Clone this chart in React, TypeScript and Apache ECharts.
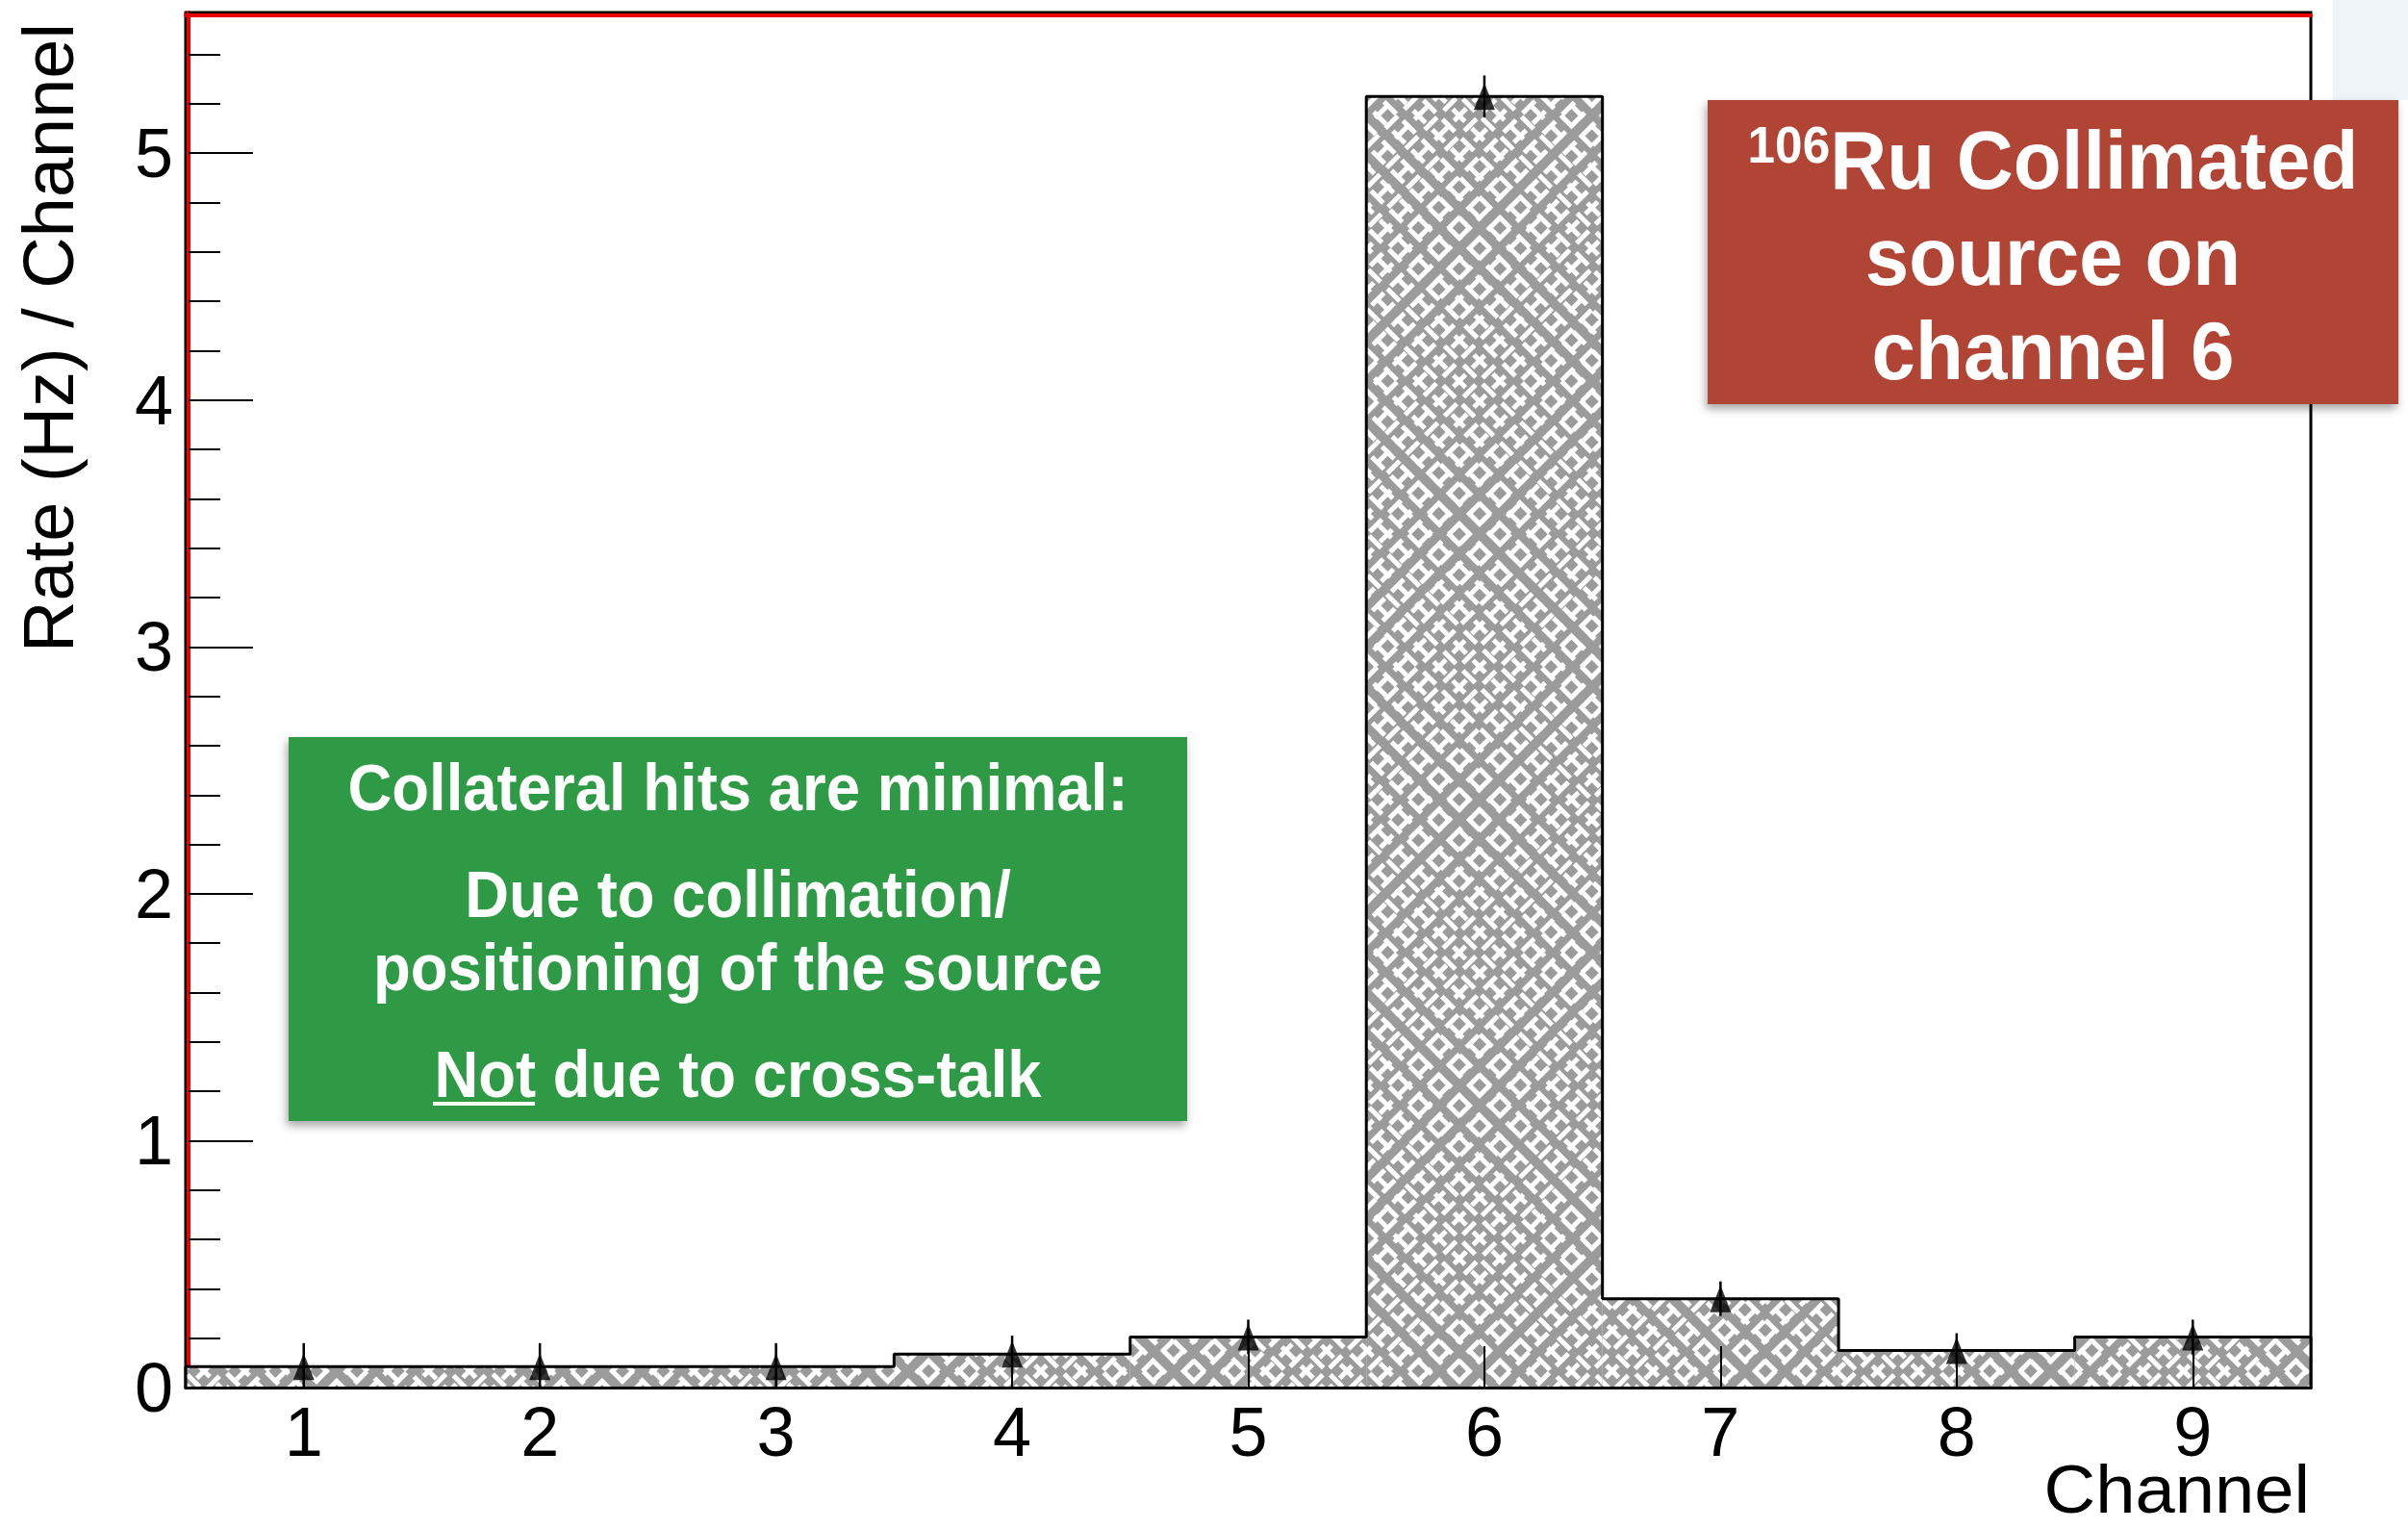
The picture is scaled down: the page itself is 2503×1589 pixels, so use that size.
import React, { useEffect, useRef } from 'react';
import * as echarts from 'echarts';

// ---- data ----
const channels = ['1', '2', '3', '4', '5', '6', '7', '8', '9'];
const rates = [0.085, 0.085, 0.085, 0.135, 0.205, 5.23, 0.36, 0.15, 0.205];
const rateErrors = [0.095, 0.095, 0.095, 0.075, 0.07, 0.085, 0.07, 0.07, 0.07];
const yMax = 5.57;
const xRange = [0.5, 9.5];

const FONT = "'Liberation Sans', Arial, Helvetica, sans-serif";

const decalA = {
  color: '#ffffff',
  symbol: 'rect',
  symbolSize: 1,
  dashArrayX: [[18, 10]],
  dashArrayY: [5, 10],
  rotation: Math.PI / 4,
};
const decalB = {
  color: '#ffffff',
  symbol: 'rect',
  symbolSize: 1,
  dashArrayX: [[18, 10]],
  dashArrayY: [5, 10],
  rotation: -Math.PI / 4,
};

export default function App() {
  const ref = useRef<HTMLDivElement>(null);

  useEffect(() => {
    if (!ref.current) return;
    const chart = echarts.init(ref.current, null, { renderer: 'svg', width: 2503, height: 1589 });

    const centers = channels.map((c) => Number(c));
    // step outline through bin edges
    const outline: number[][] = [[centers[0] - 0.5, 0]];
    centers.forEach((c, i) => outline.push([c - 0.5, rates[i]]));
    outline.push([centers[centers.length - 1] + 0.5, rates[rates.length - 1]]);
    outline.push([centers[centers.length - 1] + 0.5, 0]);

    const white = '#ffffff';
    const boxShadow = { shadowBlur: 10, shadowOffsetX: -2, shadowOffsetY: 5, shadowColor: 'rgba(0,0,0,0.35)' };

    chart.setOption({
      animation: false,
      backgroundColor: '#ffffff',
      grid: {
        left: 193,
        top: 13,
        right: 101,
        bottom: 147,
        show: true,
        borderColor: '#000',
        borderWidth: 3,
        backgroundColor: '#ffffff',
      },
      xAxis: [
        {
          type: 'category',
          data: channels,
          position: 'bottom',
          boundaryGap: true,
          z: 5,
          axisLine: { show: true, onZero: false, lineStyle: { color: '#000', width: 3 } },
          axisTick: { show: true, inside: true, alignWithLabel: true, length: 43, lineStyle: { color: '#000', width: 2 } },
          axisLabel: { show: true, margin: 10, fontSize: 72, color: '#000', fontFamily: FONT },
          splitLine: { show: false },
        },
        {
          type: 'value',
          min: xRange[0],
          max: xRange[1],
          position: 'top',
          offset: -3,
          axisLine: { show: true, onZero: false, lineStyle: { color: '#ee0000', width: 4 } },
          axisTick: { show: false },
          axisLabel: { show: false },
          splitLine: { show: false },
        },
      ],
      yAxis: [
        {
          type: 'value',
          min: 0,
          max: yMax,
          interval: 1,
          position: 'left',
          offset: -3,
          axisLine: { show: true, onZero: false, lineStyle: { color: '#ee0000', width: 4 } },
          axisTick: { show: true, inside: true, length: 67, lineStyle: { color: '#000', width: 2 } },
          axisLabel: { show: true, margin: 16, fontSize: 72, color: '#000', fontFamily: FONT, showMaxLabel: false },
          splitLine: { show: false },
        },
        {
          type: 'value',
          min: 0,
          max: yMax,
          interval: 0.2,
          position: 'left',
          offset: -3,
          axisLine: { show: false },
          axisTick: { show: true, inside: true, length: 33, lineStyle: { color: '#000', width: 2 } },
          axisLabel: { show: false },
          splitLine: { show: false },
        },
      ],
      series: [
        {
          type: 'bar',
          xAxisIndex: 0,
          yAxisIndex: 0,
          data: rates,
          barWidth: '100%',
          barGap: '-100%',
          silent: true,
          itemStyle: { color: '#9b9b9b', decal: decalA },
          z: 2,
        },
        {
          type: 'bar',
          xAxisIndex: 0,
          yAxisIndex: 0,
          data: rates,
          barWidth: '100%',
          barGap: '-100%',
          silent: true,
          itemStyle: { color: 'rgba(0,0,0,0)', decal: decalB },
          z: 2,
        },
        {
          type: 'line',
          xAxisIndex: 1,
          yAxisIndex: 0,
          data: outline,
          step: 'end',
          symbol: 'none',
          silent: true,
          lineStyle: { color: '#000', width: 3 },
          z: 3,
        },
        {
          type: 'custom',
          xAxisIndex: 1,
          yAxisIndex: 0,
          silent: true,
          data: centers.map((c, i) => [c, Math.max(0, rates[i] - rateErrors[i]), rates[i] + rateErrors[i]]),
          renderItem: (params: any, api: any) => {
            const p1 = api.coord([api.value(0), api.value(1)]);
            const p2 = api.coord([api.value(0), api.value(2)]);
            return {
              type: 'line',
              shape: { x1: p1[0], y1: p1[1], x2: p2[0], y2: p2[1] },
              style: { stroke: '#000', lineWidth: 2.5 },
            };
          },
          z: 4,
        },
        {
          type: 'scatter',
          xAxisIndex: 1,
          yAxisIndex: 0,
          silent: true,
          data: centers.map((c, i) => [c, rates[i]]),
          symbol: 'triangle',
          symbolSize: [22, 28],
          itemStyle: { color: '#000' },
          z: 4,
        },
      ],
      graphic: [
        {
          type: 'rect',
          z: 1,
          shape: { x: 2425, y: 0, width: 78, height: 104 },
          style: { fill: '#eef4f7' },
        },
        // y axis title
        {
          type: 'text',
          z: 50,
          x: 50,
          y: 351,
          rotation: Math.PI / 2,
          style: {
            text: 'Rate (Hz) / Channel',
            fontSize: 74,
            fontFamily: FONT,
            fill: '#000',
            align: 'center',
            verticalAlign: 'middle',
          },
        },
        // x axis title
        {
          type: 'text',
          z: 50,
          x: 2401,
          y: 1548,
          scaleX: 1.06,
          style: {
            text: 'Channel',
            fontSize: 70,
            lineHeight: 50,
            fontFamily: FONT,
            fill: '#000',
            align: 'right',
            verticalAlign: 'middle',
          },
        },
        // green annotation box
        {
          type: 'rect',
          z: 100,
          shape: { x: 300, y: 766, width: 934, height: 399 },
          style: { fill: '#2f9a45', ...boxShadow },
        },
        ...[
          { t: 'Collateral hits are minimal:', y: 818 },
          { t: 'Due to collimation/', y: 929 },
          { t: 'positioning of the source', y: 1005 },
          { t: 'Not due to cross-talk', y: 1116 },
        ].map((l) => ({
          type: 'text',
          z: 101,
          x: 767,
          y: l.y,
          scaleX: 0.92,
          style: {
            text: l.t,
            fontSize: 69,
            fontWeight: 'bold',
            fontFamily: FONT,
            fill: white,
            align: 'center',
            verticalAlign: 'middle',
          },
        })),
        {
          type: 'rect',
          z: 101,
          shape: { x: 450, y: 1145, width: 106, height: 4 },
          style: { fill: white },
        },
        // red annotation box
        {
          type: 'rect',
          z: 100,
          shape: { x: 1775, y: 104, width: 718, height: 316 },
          style: { fill: '#b14434', ...boxShadow },
        },
        {
          type: 'text',
          z: 101,
          x: 2134,
          y: 166,
          scaleX: 0.95,
          style: {
            text: '{s|106}{b|Ru Collimated}',
            align: 'center',
            verticalAlign: 'middle',
            fill: white,
            rich: {
              s: { fontSize: 54, fontWeight: 'bold', fontFamily: FONT, fill: white, verticalAlign: 'top' },
              b: { fontSize: 86, fontWeight: 'bold', fontFamily: FONT, fill: white },
            },
          },
        },
        ...[
          { t: 'source on', y: 266 },
          { t: 'channel 6', y: 364 },
        ].map((l) => ({
          type: 'text',
          z: 101,
          x: 2134,
          y: l.y,
          scaleX: 0.95,
          style: {
            text: l.t,
            fontSize: 86,
            fontWeight: 'bold',
            fontFamily: FONT,
            fill: white,
            align: 'center',
            verticalAlign: 'middle',
          },
        })),
      ],
    });

    return () => {
      chart.dispose();
    };
  }, []);

  return (
    <div
      ref={ref}
      style={{ position: 'fixed', left: 0, top: 0, width: 2503, height: 1589, background: '#fff' }}
    />
  );
}
